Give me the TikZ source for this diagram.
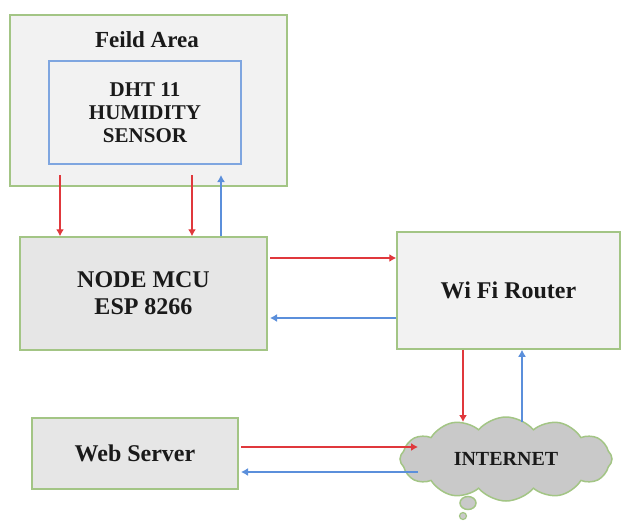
\documentclass[tikz,border=0pt]{standalone}
\usepackage{fontspec}
\setmainfont{Liberation Serif}
\usetikzlibrary{shapes.symbols,shapes.geometric,arrows.meta}
\definecolor{bordergreen}{HTML}{A3C585}
\definecolor{sensorblue}{HTML}{7FA6E0}
\definecolor{lightfill}{HTML}{F2F2F2}
\definecolor{midfill}{HTML}{E6E6E6}
\definecolor{cloudfill}{HTML}{C9C9C9}
\definecolor{redline}{HTML}{E0383C}
\definecolor{blueline}{HTML}{5B8FDB}
\definecolor{txt}{HTML}{1A1A1A}
\begin{document}
\begin{tikzpicture}[x=1pt,y=-1pt,
  box/.style={draw=bordergreen, line width=1.5pt, inner sep=0pt, text=txt},
  lbl/.style={font=\bfseries\fontsize{24}{27}\selectfont, align=center, text=txt},
  redarrow/.style={draw=redline, line width=1.3pt, -{Latex[length=7pt,width=8pt]}},
  bluearrow/.style={draw=blueline, line width=1.3pt, -{Latex[length=7pt,width=8pt]}}]
\useasboundingbox (0,0) rectangle (622,523);

% boxes
\node[box, fill=lightfill, minimum width=277pt, minimum height=171pt] (feild) at (148.5,100.5) {};
\node[lbl, font=\bfseries\fontsize{23}{25}\selectfont] (feildlbl) at (147,40) {Feild Area};
\node[box, draw=sensorblue, line width=1.5pt, fill=lightfill, minimum width=192pt, minimum height=103pt,
      font=\bfseries\fontsize{21}{23}\selectfont, align=center] (dht) at (145,112.5) {DHT 11\\HUMIDITY\\SENSOR};
\node[box, fill=midfill, minimum width=247pt, minimum height=113pt, lbl] (mcu) at (143.5,293.5) {NODE MCU\\ESP 8266};
\node[box, fill=lightfill, minimum width=223pt, minimum height=117pt, lbl] (router) at (508.5,290.5) {Wi Fi Router};
\node[box, fill=midfill, minimum width=206pt, minimum height=71pt, lbl] (web) at (135,453.5) {Web Server};
\node[draw=bordergreen, line width=1.5pt, fill=cloudfill, ellipse, minimum width=16pt, minimum height=13pt, inner sep=0pt] (tail1) at (468,503) {};
\node[draw=bordergreen, line width=1.2pt, fill=cloudfill, circle, minimum size=7pt, inner sep=0pt] (tail2) at (463,516) {};
\node[cloud, cloud ignores aspect, draw=bordergreen, line width=1.5pt, fill=cloudfill, cloud puffs=12, cloud puff arc=100,
      minimum width=212pt, minimum height=84pt, inner sep=0pt,
      font=\bfseries\fontsize{20}{22}\selectfont, text=txt] (net) at (506,459) {INTERNET};

% connectors feild <-> mcu
\coordinate (r1) at (60,175);
\coordinate (r2) at (192,175);
\coordinate (b1) at (221,175);
\draw[redarrow] (r1) -- (r1 |- mcu.north);
\draw[redarrow] (r2) -- (r2 |- mcu.north);
\draw[bluearrow] (b1 |- mcu.north) -- (b1);

% mcu <-> router
\coordinate (h1) at (270,258);
\coordinate (h2) at (270,318);
\draw[redarrow] (h1) -- (h1 -| router.west);
\draw[bluearrow] (h2 -| router.west) -- (h2);

% router <-> internet
\coordinate (v1) at (463,422);
\coordinate (v2) at (522,422);
\draw[redarrow] (v1 |- router.south) -- (v1);
\draw[bluearrow] (v2) -- (v2 |- router.south);

% web <-> internet
\coordinate (w1) at (418,447);
\coordinate (w2) at (418,472);
\coordinate (w1s) at (241,447);
\coordinate (w2s) at (241,472);
\draw[redarrow] (w1s) -- (w1);
\draw[bluearrow] (w2) -- (w2s);
\end{tikzpicture}
\end{document}
